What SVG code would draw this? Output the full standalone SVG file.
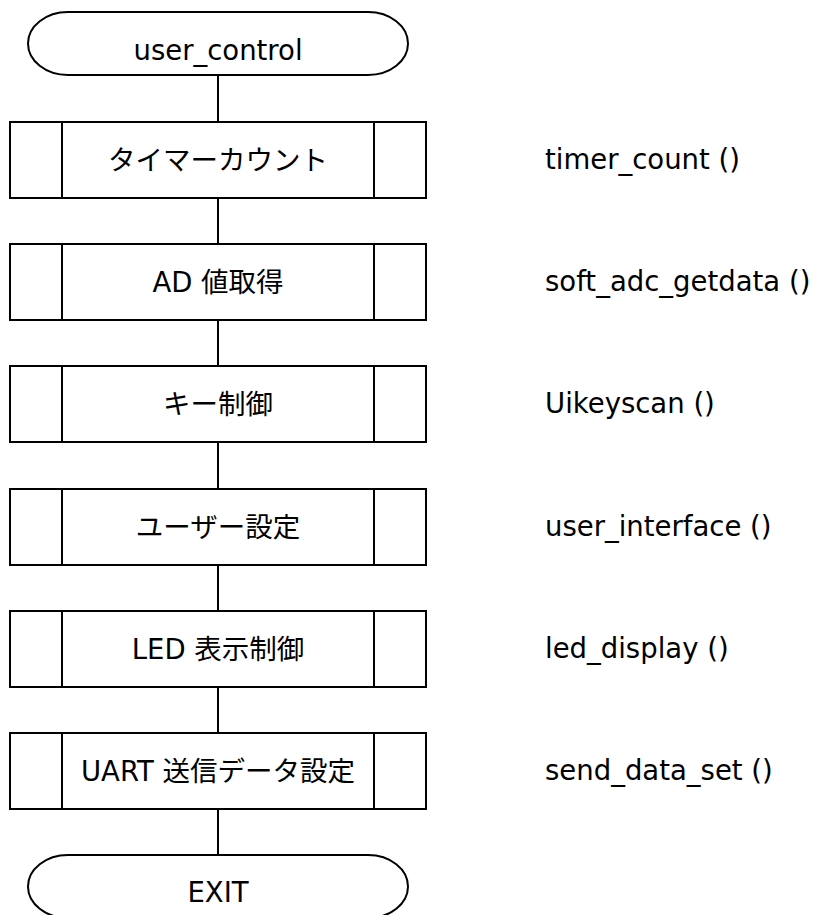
<svg xmlns="http://www.w3.org/2000/svg" width="817" height="915" viewBox="0 0 817 915">
<style>
  .shape{fill:#fff;stroke:#000;stroke-width:2}
  .line{stroke:#000;stroke-width:2;fill:none}
  text{font-family:"DejaVu Sans","Noto Sans CJK JP",sans-serif;font-size:27.5px;fill:#000}
  .c{text-anchor:middle}
</style>
<rect width="817" height="915" fill="#fff"/>
<g id="connectors">
  <line class="line" x1="218" y1="75" x2="218" y2="122"/>
  <line class="line" x1="218" y1="198" x2="218" y2="244"/>
  <line class="line" x1="218" y1="320" x2="218" y2="366"/>
  <line class="line" x1="218" y1="442" x2="218" y2="489"/>
  <line class="line" x1="218" y1="565" x2="218" y2="611"/>
  <line class="line" x1="218" y1="687" x2="218" y2="733"/>
  <line class="line" x1="218" y1="809" x2="218" y2="855"/>
</g>
<g id="start">
  <path class="shape" d="M68 12H368A40 31.5 0 0 1 368 75H68A40 31.5 0 0 1 68 12Z"/>
  <text class="c" x="218" y="60">user_control</text>
</g>
<g id="p1">
  <rect class="shape" x="10" y="122" width="416" height="76"/>
  <line class="line" x1="62" y1="122" x2="62" y2="198"/>
  <line class="line" x1="374" y1="122" x2="374" y2="198"/>
  <text class="c" x="218" y="170">タイマーカウント</text>
  <text x="545" y="169">timer_count ()</text>
</g>
<g id="p2">
  <rect class="shape" x="10" y="244" width="416" height="76"/>
  <line class="line" x1="62" y1="244" x2="62" y2="320"/>
  <line class="line" x1="374" y1="244" x2="374" y2="320"/>
  <text class="c" x="218" y="292">AD 値取得</text>
  <text x="545" y="291">soft_adc_getdata ()</text>
</g>
<g id="p3">
  <rect class="shape" x="10" y="366" width="416" height="76"/>
  <line class="line" x1="62" y1="366" x2="62" y2="442"/>
  <line class="line" x1="374" y1="366" x2="374" y2="442"/>
  <text class="c" x="218" y="414">キー制御</text>
  <text x="545" y="413">Uikeyscan ()</text>
</g>
<g id="p4">
  <rect class="shape" x="10" y="489" width="416" height="76"/>
  <line class="line" x1="62" y1="489" x2="62" y2="565"/>
  <line class="line" x1="374" y1="489" x2="374" y2="565"/>
  <text class="c" x="218" y="537">ユーザー設定</text>
  <text x="545" y="536">user_interface ()</text>
</g>
<g id="p5">
  <rect class="shape" x="10" y="611" width="416" height="76"/>
  <line class="line" x1="62" y1="611" x2="62" y2="687"/>
  <line class="line" x1="374" y1="611" x2="374" y2="687"/>
  <text class="c" x="218" y="659">LED 表示制御</text>
  <text x="545" y="658">led_display ()</text>
</g>
<g id="p6">
  <rect class="shape" x="10" y="733" width="416" height="76"/>
  <line class="line" x1="62" y1="733" x2="62" y2="809"/>
  <line class="line" x1="374" y1="733" x2="374" y2="809"/>
  <text class="c" x="218" y="781">UART 送信データ設定</text>
  <text x="545" y="780">send_data_set ()</text>
</g>
<g id="end">
  <path class="shape" d="M68 855H368A40 31.5 0 0 1 368 918H68A40 31.5 0 0 1 68 855Z"/>
  <text class="c" x="218" y="902">EXIT</text>
</g>
</svg>
